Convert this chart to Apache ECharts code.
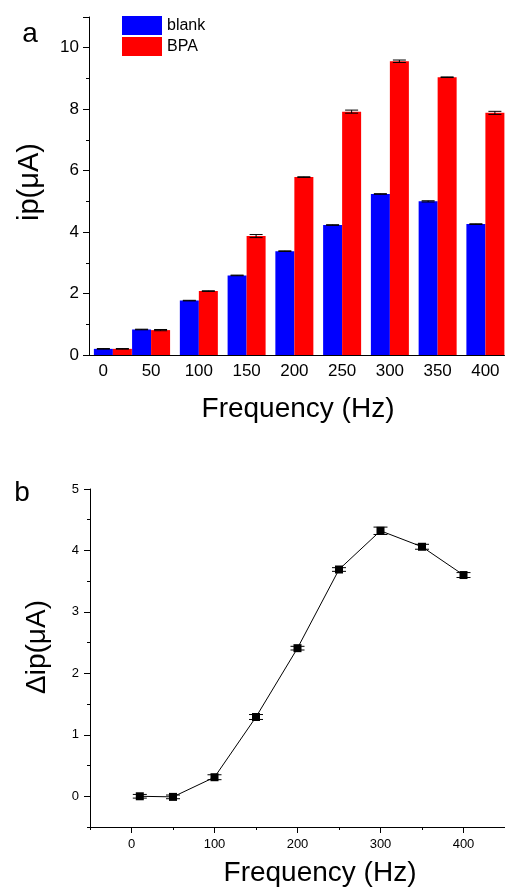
<!DOCTYPE html>
<html>
<head>
<meta charset="utf-8">
<script src="https://cdn.jsdelivr.net/npm/echarts@6/dist/echarts.min.js"></script>
<style>
html,body{margin:0;padding:0;background:#fff;}
#c{width:505px;height:889px;}
</style>
</head>
<body>
<div id="c"></div>
<script>
// ---- data ----
var freqs = [10, 50, 100, 150, 200, 250, 300, 350, 400];
var blank = [0.20, 0.83, 1.77, 2.59, 3.38, 4.23, 5.24, 5.00, 4.26];
var blankErr = [0.01, 0.01, 0.01, 0.01, 0.01, 0.01, 0.01, 0.02, 0.01];
var bpa = [0.20, 0.81, 2.08, 3.87, 5.79, 7.92, 9.56, 9.04, 7.88];
var bpaErr = [0.01, 0.02, 0.01, 0.05, 0.01, 0.05, 0.04, 0.01, 0.05];
var delta = [0.00, -0.01, 0.31, 1.29, 2.41, 3.69, 4.32, 4.06, 3.60];
var deltaErr = [0.03, 0.03, 0.04, 0.04, 0.03, 0.03, 0.06, 0.04, 0.04];
var topXTicks = [0, 50, 100, 150, 200, 250, 300, 350, 400];
var botXTicks = [0, 100, 200, 300, 400];
var botYTicks = [0, 1, 2, 3, 4, 5];

var FONT = "'Liberation Sans', Arial, sans-serif";
var chart = echarts.init(document.getElementById('c'), null, {renderer: 'canvas'});

function pairs(xs, ys, es) {
  return xs.map(function (x, i) { return es ? [x, ys[i], es[i]] : [x, ys[i]]; });
}
function errRender(offset, cap) {
  return function (params, api) {
    var x = api.value(0), y = api.value(1), e = api.value(2);
    var hi = api.coord([x, y + e]), lo = api.coord([x, y - e]);
    var cx = hi[0] + offset;
    var st = {stroke: '#000', lineWidth: 1};
    return {
      type: 'group',
      children: [
        {type: 'line', shape: {x1: cx, y1: hi[1], x2: cx, y2: lo[1]}, style: st},
        {type: 'line', shape: {x1: cx - cap / 2, y1: hi[1], x2: cx + cap / 2, y2: hi[1]}, style: st},
        {type: 'line', shape: {x1: cx - cap / 2, y1: lo[1], x2: cx + cap / 2, y2: lo[1]}, style: st}
      ]
    };
  };
}
var axisLineBlack = {show: true, onZero: false, lineStyle: {color: '#000', width: 1}};
var axisLineHidden = {show: false, onZero: false};

var option = {
  animation: false,
  backgroundColor: '#fff',
  textStyle: {fontFamily: FONT},
  legend: {
    orient: 'vertical', left: 122, top: 16, padding: 0, itemWidth: 40, itemHeight: 19, itemGap: 2,
    icon: 'rect',
    textStyle: {fontSize: 16, color: '#000', fontFamily: FONT},
    data: ['blank', 'BPA']
  },
  grid: [
    {left: 89, top: 17, width: 415.5, height: 338, containLabel: false},
    {left: 90, top: 489, width: 418, height: 338, containLabel: false}
  ],
  xAxis: [
    {
      type: 'value', gridIndex: 0, position: 'bottom', min: -15, max: 420,
      axisLine: axisLineBlack, splitLine: {show: false},
      axisTick: {show: false},
      axisLabel: {customValues: topXTicks, color: '#000', fontSize: 17, margin: 8, fontFamily: FONT}
    },
    {
      type: 'value', gridIndex: 1, position: 'bottom', min: -50, max: 450, interval: 50,
      axisLine: axisLineBlack, splitLine: {show: false},
      axisTick: {show: true, customValues: botXTicks, length: 6, lineStyle: {color: '#000'}},
      axisLabel: {customValues: botXTicks, color: '#000', fontSize: 13, margin: 11, fontFamily: FONT}
    },
    {
      type: 'value', gridIndex: 1, position: 'bottom', min: -50, max: 450, interval: 50,
      axisLine: axisLineHidden, splitLine: {show: false},
      axisTick: {show: true, length: 3, lineStyle: {color: '#000'}},
      axisLabel: {show: false}
    }
  ],
  yAxis: [
    {
      type: 'value', gridIndex: 0, position: 'left', min: 0, max: 11, interval: 2,
      axisLine: axisLineBlack, splitLine: {show: false},
      axisTick: {show: true, length: 6, lineStyle: {color: '#000'}},
      minorTick: {show: true, splitNumber: 2, length: 3, lineStyle: {color: '#000'}},
      axisLabel: {color: '#000', fontSize: 17, margin: 10, fontFamily: FONT,
        formatter: function (v) { return v > 10 ? '' : String(v); }}
    },
    {
      type: 'value', gridIndex: 1, position: 'left', min: -0.5, max: 5, interval: 0.5,
      axisLine: axisLineBlack, splitLine: {show: false},
      axisTick: {show: true, customValues: botYTicks, length: 6, lineStyle: {color: '#000'}},
      axisLabel: {customValues: botYTicks, color: '#000', fontSize: 13, margin: 11, fontFamily: FONT}
    },
    {
      type: 'value', gridIndex: 1, position: 'left', min: -0.5, max: 5, interval: 0.5,
      axisLine: axisLineHidden, splitLine: {show: false},
      axisTick: {show: true, length: 3, lineStyle: {color: '#000'}},
      axisLabel: {show: false}
    }
  ],
  graphic: [
    {type: 'text', x: 30, y: 34, style: {text: 'a', fontSize: 28, fontFamily: FONT, fill: '#000', align: 'center', verticalAlign: 'middle'}},
    {type: 'text', x: 22, y: 493, style: {text: 'b', fontSize: 28, fontFamily: FONT, fill: '#000', align: 'center', verticalAlign: 'middle'}},
    {type: 'text', x: 298, y: 409, style: {text: 'Frequency (Hz)', fontSize: 28, fontFamily: FONT, fill: '#000', align: 'center', verticalAlign: 'middle'}},
    {type: 'text', x: 320, y: 873, style: {text: 'Frequency (Hz)', fontSize: 28, fontFamily: FONT, fill: '#000', align: 'center', verticalAlign: 'middle'}},
    {type: 'text', x: 30, y: 182, rotation: Math.PI / 2, style: {text: 'ip(μA)', fontSize: 29, fontFamily: FONT, fill: '#000', align: 'center', verticalAlign: 'middle'}},
    {type: 'text', x: 37, y: 647, rotation: Math.PI / 2, style: {text: 'Δip(μA)', fontSize: 28, fontFamily: FONT, fill: '#000', align: 'center', verticalAlign: 'middle'}}
  ],
  series: [
    {
      name: 'blank', type: 'bar', xAxisIndex: 0, yAxisIndex: 0,
      barWidth: 19, barGap: '0%',
      itemStyle: {color: '#0000ff'},
      data: pairs(freqs, blank)
    },
    {
      name: 'BPA', type: 'bar', xAxisIndex: 0, yAxisIndex: 0,
      barWidth: 19, barGap: '0%',
      itemStyle: {color: '#ff0000'},
      data: pairs(freqs, bpa)
    },
    {
      type: 'custom', xAxisIndex: 0, yAxisIndex: 0, z: 10,
      renderItem: errRender(-9.5, 13), data: pairs(freqs, blank, blankErr)
    },
    {
      type: 'custom', xAxisIndex: 0, yAxisIndex: 0, z: 10,
      renderItem: errRender(9.5, 13), data: pairs(freqs, bpa, bpaErr)
    },
    {
      name: 'delta', type: 'line', xAxisIndex: 1, yAxisIndex: 1,
      symbol: 'rect', symbolSize: 8,
      lineStyle: {color: '#000', width: 1},
      itemStyle: {color: '#000'},
      data: pairs(freqs, delta)
    },
    {
      type: 'custom', xAxisIndex: 1, yAxisIndex: 1, z: 10,
      renderItem: errRender(0, 14), data: pairs(freqs, delta, deltaErr)
    }
  ]
};
chart.setOption(option);
</script>
</body>
</html>
